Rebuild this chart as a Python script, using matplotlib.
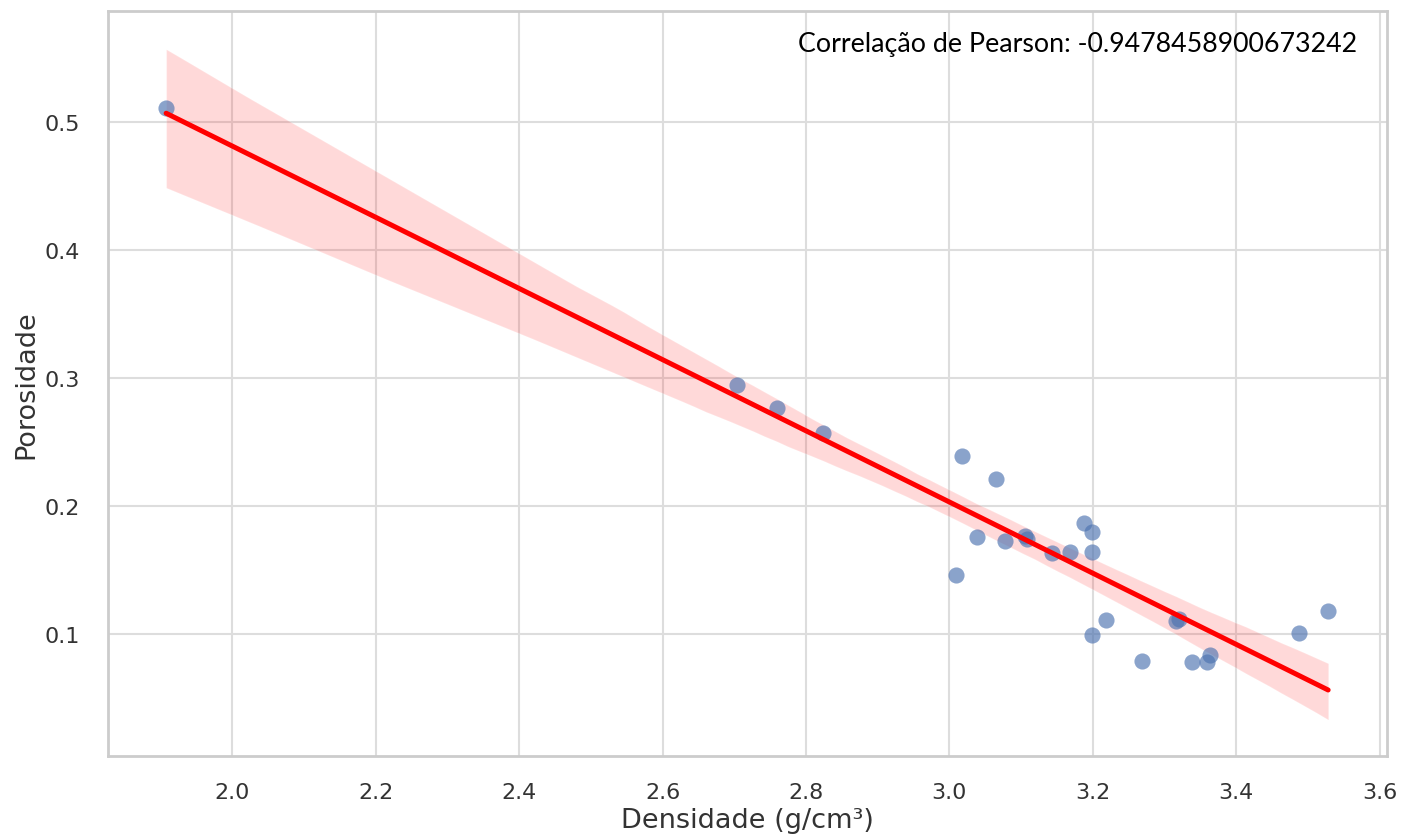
import matplotlib
matplotlib.use("Agg")
import matplotlib.pyplot as plt
import seaborn as sns
import numpy as np
import pandas as pd

densidade = [1.908, 2.704, 2.760, 2.824, 3.009, 3.017, 3.038, 3.065, 3.077,
             3.105, 3.108, 3.143, 3.168, 3.188, 3.199, 3.199, 3.199, 3.218,
             3.268, 3.316, 3.320, 3.338, 3.359, 3.363, 3.487, 3.528]
porosidade = [0.511, 0.295, 0.277, 0.257, 0.146, 0.239, 0.176, 0.221, 0.173,
              0.177, 0.174, 0.163, 0.164, 0.187, 0.180, 0.164, 0.099, 0.111,
              0.079, 0.110, 0.112, 0.078, 0.078, 0.084, 0.101, 0.118]

df = pd.DataFrame({"Densidade": densidade, "Porosidade": porosidade})

sns.set_theme(style="whitegrid")
plt.rcParams["axes.edgecolor"] = "#cccccc"
plt.rcParams["grid.color"] = "#dddddd"

fig = plt.figure(figsize=(14.16, 8.37), dpi=100)
ax = fig.add_axes([0.0763, 0.0956, 0.9032, 0.8901])

ax.scatter(df["Densidade"], df["Porosidade"], s=135, color="#4c72b0",
           alpha=0.65, linewidth=0, zorder=3)
sns.regplot(data=df, x="Densidade", y="Porosidade", scatter=False, ax=ax,
            color="red", seed=0, line_kws={"lw": 3.6, "zorder": 4})

ax.set_xlim(1.827, 3.61)
ax.set_ylim(0.0047, 0.587)
ax.set_xticks([2.0, 2.2, 2.4, 2.6, 2.8, 3.0, 3.2, 3.4, 3.6])
ax.set_yticks([0.1, 0.2, 0.3, 0.4, 0.5])
ax.tick_params(labelsize=16, colors="#333333")
ax.tick_params(axis="y", pad=14)
ax.tick_params(axis="x", pad=13)
ax.set_xlabel("Densidade (g/cm³)", fontsize=19.5, color="#333333", labelpad=3)
ax.set_ylabel("Porosidade", fontsize=19.5, color="#333333", labelpad=4)
for s in ax.spines.values():
    s.set_linewidth(2)
ax.grid(linewidth=1.5)

ax.text(0.977, 0.957, "Correlação de Pearson: -0.9478458900673242",
        transform=ax.transAxes, ha="right", va="center", fontsize=19.3,
        family=["Lato", "DejaVu Sans"], color="black")

fig.savefig("out.png", dpi=100)
